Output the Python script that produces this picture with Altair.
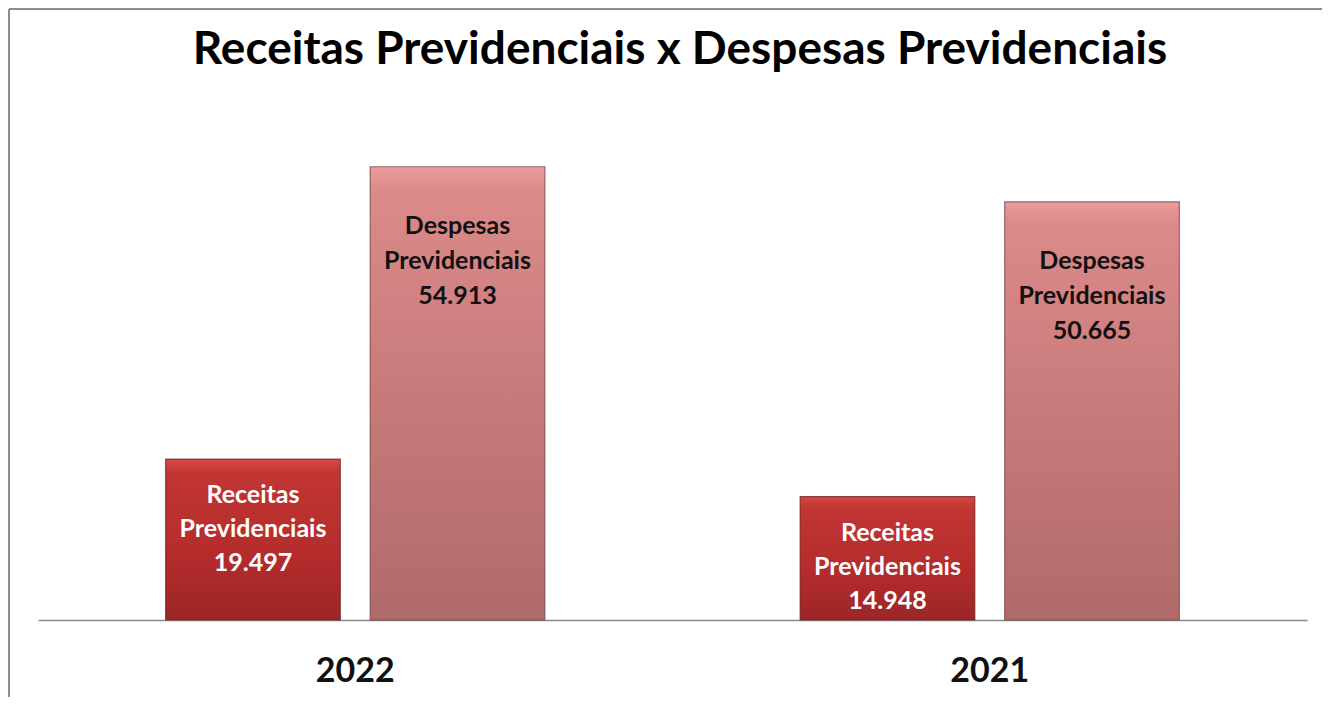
import altair as alt
import pandas as pd

years = ["2022", "2021"]
series = ["Receitas Previdenciais", "Despesas Previdenciais"]
receitas = [19.497, 14.948]
despesas = [54.913, 50.665]
title_text = "Receitas Previdenciais x Despesas Previdenciais"

rows = []
for i, y in enumerate(years):
    rows.append({"ano": y, "serie": series[0], "valor": receitas[i]})
    rows.append({"ano": y, "serie": series[1], "valor": despesas[i]})
df = pd.DataFrame(rows)
df["rotulo"] = df["serie"].str.replace(" ", "\n") + "\n" + df["valor"].map(lambda v: f"{v:.3f}")

FONT = "Lato"

x_enc = alt.X("ano:N", sort=years,
              scale=alt.Scale(paddingInner=0, paddingOuter=0),
              axis=alt.Axis(title=None, labelAngle=0, ticks=False, grid=False,
                            domainColor="#8a8a8a", domainWidth=1.5,
                            labelFont=FONT, labelFontSize=34, labelFontWeight="bold",
                            labelColor="#111111", labelPadding=34))
xo_enc = alt.XOffset("serie:N", sort=series,
                     scale=alt.Scale(domain=series, paddingInner=0.146, paddingOuter=0.624))
y_enc = alt.Y("valor:Q", scale=alt.Scale(domain=[0, 63], nice=False), axis=None)

grad_rec = alt.Gradient(gradient="linear", x1=0, x2=0, y1=0, y2=1,
                        stops=[alt.GradientStop(color="#d84a48", offset=0),
                               alt.GradientStop(color="#c23634", offset=0.08),
                               alt.GradientStop(color="#b42c2c", offset=0.6),
                               alt.GradientStop(color="#9c2626", offset=1)])
grad_des = alt.Gradient(gradient="linear", x1=0, x2=0, y1=0, y2=1,
                        stops=[alt.GradientStop(color="#ec9c9c", offset=0),
                               alt.GradientStop(color="#dc8a8a", offset=0.05),
                               alt.GradientStop(color="#c87a7a", offset=0.5),
                               alt.GradientStop(color="#b06a6a", offset=1)])

base = alt.Chart(df)

bars_rec = base.transform_filter(alt.datum.serie == series[0]).mark_bar(
    fill=grad_rec, stroke="#6a1818", strokeWidth=1.2, strokeOpacity=0.7
).encode(x=x_enc, xOffset=xo_enc, y=y_enc)

bars_des = base.transform_filter(alt.datum.serie == series[1]).mark_bar(
    fill=grad_des, stroke="#6e3e3e", strokeWidth=1.2, strokeOpacity=0.7
).encode(x=x_enc, xOffset=xo_enc, y=y_enc)

txt_rec = base.transform_filter(alt.datum.serie == series[0]).mark_text(
    font=FONT, fontSize=25, fontWeight="bold", color="#ffffff",
    baseline="top", align="center", lineBreak="\n", lineHeight=34, dy=24
).encode(x=x_enc, xOffset=xo_enc, y=y_enc, text="rotulo:N")

txt_des = base.transform_filter(alt.datum.serie == series[1]).mark_text(
    font=FONT, fontSize=25, fontWeight="bold", color="#111111",
    baseline="top", align="center", lineBreak="\n", lineHeight=35, dy=47
).encode(x=x_enc, xOffset=xo_enc, y=y_enc, text="rotulo:N")

title = alt.Chart(pd.DataFrame({"t": [title_text]})).mark_text(
    font=FONT, fontSize=46, fontWeight="bold", color="#000000",
    align="center", baseline="alphabetic"
).encode(x=alt.value(642), y=alt.value(-36), text="t:N")

border_top = alt.Chart(df).mark_rule(color="#8c8c8c", strokeWidth=1.5).encode(
    x=alt.value(-29), x2=alt.value(1400), y=alt.value(-91))
border_left = alt.Chart(df).mark_rule(color="#8c8c8c", strokeWidth=1.5).encode(
    x=alt.value(-29), y=alt.value(-91), y2=alt.value(700))

chart = alt.layer(border_top, border_left, title, bars_rec, bars_des, txt_rec, txt_des).properties(
    width=1269, height=520,
    padding={"left": 30, "top": 92, "right": 15, "bottom": 77},
    autosize=alt.AutoSizeParams(type="none"),
).configure(background="#ffffff", view=alt.ViewConfig(stroke="transparent", strokeWidth=0))

chart.save("out.html", embed_options={"renderer": "svg", "actions": False})
